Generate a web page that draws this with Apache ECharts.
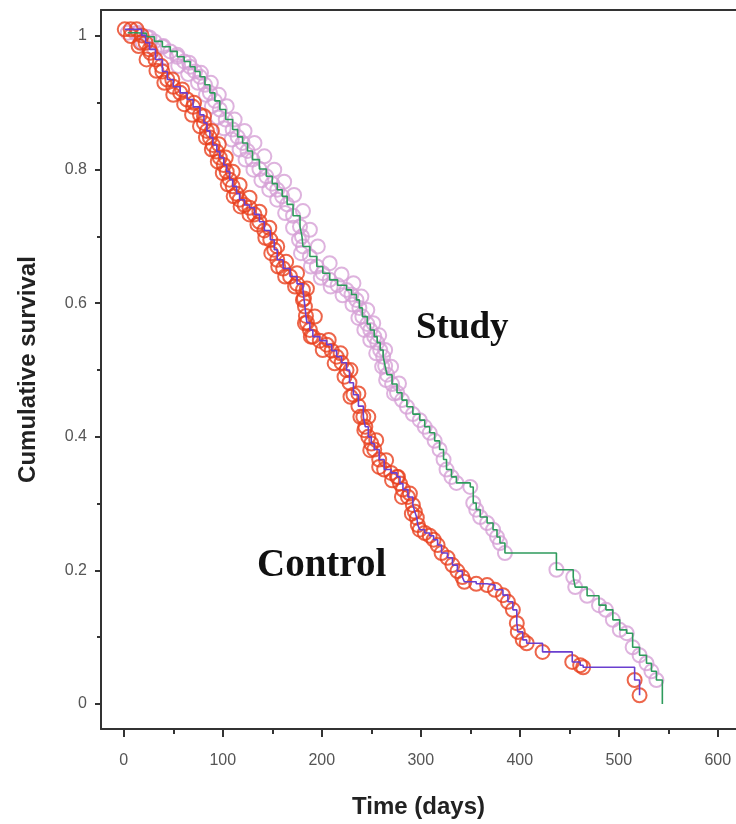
<!DOCTYPE html>
<html lang="en">
<head>
    <meta charset="UTF-8">
    <title>Cumulative survival</title>
    <script src="https://cdn.jsdelivr.net/npm/echarts@6/dist/echarts.min.js"></script>
    <style>
        html, body { margin: 0; padding: 0; background: #fff; }
        #km { width: 736px; height: 824px; }
    </style>
</head>
<body>
    <div id="km"></div>
    <script>
        // ticks
        var xTicks = [0, 100, 200, 300, 400, 500, 600];
        var xMinorTicks = [50, 150, 250, 350, 450, 550];
        var yTicks = [0, 0.2, 0.4, 0.6, 0.8, 1];
        var yMinorTicks = [0.1, 0.3, 0.5, 0.7, 0.9];

        // control group curve (days, survival)
        var controlDays = [1, 7, 13, 18, 22, 26, 32, 39, 44, 50, 57, 64, 70, 77, 81, 84, 87, 90, 94, 97,
            101, 104, 107, 110, 114, 117, 122, 127, 132, 137, 142, 148, 152, 155, 161, 168, 175, 181, 182, 183,
            184, 185, 188, 191, 198, 205, 210, 215, 220, 225, 228, 232, 237, 242, 244, 247, 250, 253, 258, 263,
            270, 276, 279, 282, 287, 292, 294, 296, 297, 299, 304, 309, 313, 317, 321, 327, 332, 337, 342, 344,
            356, 367, 375, 383, 388, 393, 397, 398, 403, 407, 423, 453, 461, 464, 516, 521];
        var controlSurv = [1.01, 1.01, 1.01, 1.001, 0.99, 0.98, 0.965, 0.947, 0.935, 0.924, 0.915, 0.905, 0.894, 0.882, 0.87, 0.858, 0.848, 0.837, 0.827, 0.818,
            0.807, 0.797, 0.785, 0.775, 0.764, 0.755, 0.747, 0.743, 0.733, 0.722, 0.709, 0.695, 0.68, 0.665, 0.652, 0.64, 0.629, 0.62, 0.607, 0.595,
            0.581, 0.571, 0.56, 0.55, 0.544, 0.538, 0.529, 0.52, 0.511, 0.5, 0.481, 0.463, 0.446, 0.43, 0.415, 0.4, 0.39, 0.381, 0.366, 0.351,
            0.346, 0.34, 0.33, 0.321, 0.31, 0.298, 0.288, 0.279, 0.268, 0.261, 0.256, 0.252, 0.246, 0.238, 0.226, 0.219, 0.208, 0.199, 0.19, 0.183,
            0.18, 0.178, 0.171, 0.163, 0.153, 0.141, 0.121, 0.108, 0.096, 0.091, 0.078, 0.063, 0.058, 0.055, 0.036, 0.013];

        // extra control marks on the edges of the dense band
        var controlMarkDays = [7, 17, 27, 38, 49, 59, 71, 81, 89, 96, 103, 110, 117, 127, 137, 147, 155, 164, 175, 185,
            193, 207, 219, 229, 237, 247, 255, 265, 277, 289,
            15, 23, 33, 41, 50, 61, 69, 77, 83, 89, 95, 100, 105, 111, 118, 127, 135, 143, 149, 156,
            163, 173, 181, 183, 189, 201, 213, 223, 229, 239, 243, 249, 258, 271, 281, 291];
        var controlMarkSurv = [1.0, 0.99, 0.975, 0.955, 0.935, 0.92, 0.9, 0.88, 0.858, 0.838, 0.818, 0.797, 0.777, 0.758, 0.737, 0.713, 0.685, 0.662, 0.645, 0.622,
            0.58, 0.545, 0.525, 0.5, 0.465, 0.43, 0.395, 0.365, 0.34, 0.315,
            0.985, 0.965, 0.948, 0.93, 0.912, 0.898, 0.882, 0.865, 0.848, 0.83, 0.812, 0.795, 0.778, 0.76, 0.745, 0.733, 0.718, 0.698, 0.675, 0.655,
            0.64, 0.625, 0.605, 0.57, 0.55, 0.53, 0.51, 0.49, 0.46, 0.43, 0.41, 0.38, 0.355, 0.335, 0.31, 0.285];

        // study group curve (days, survival), last point is the end of the curve
        var studyDays = [4, 12, 23, 31, 39, 47, 54, 61, 67, 72, 77, 82, 87, 92, 97, 103, 110, 115, 120, 125,
            130, 137, 144, 150, 155, 160, 165, 171, 178, 180, 181, 188, 195, 201, 208, 216, 225, 230, 235, 238,
            241, 246, 249, 253, 256, 259, 262, 264, 266, 271, 276, 281, 286, 292, 299, 304, 309, 314, 319, 323,
            326, 331, 336, 350, 353, 356, 360, 367, 373, 377, 380, 385, 437, 454, 456, 468, 480, 487, 494, 501,
            508, 514, 521, 528, 533, 538, 544];
        var studySurv = [1.005, 1.004, 0.999, 0.992, 0.984, 0.977, 0.969, 0.962, 0.954, 0.947, 0.939, 0.927, 0.915, 0.903, 0.89, 0.875, 0.86, 0.849, 0.84, 0.828,
            0.815, 0.801, 0.79, 0.779, 0.77, 0.76, 0.748, 0.731, 0.715, 0.7, 0.685, 0.67, 0.655, 0.645, 0.635, 0.627, 0.62, 0.613, 0.605, 0.593,
            0.58, 0.569, 0.56, 0.55, 0.541, 0.53, 0.52, 0.506, 0.493, 0.479, 0.466, 0.455, 0.445, 0.434, 0.425, 0.415, 0.406, 0.394, 0.381, 0.366,
            0.351, 0.34, 0.331, 0.325, 0.301, 0.291, 0.28, 0.271, 0.261, 0.25, 0.241, 0.226, 0.201, 0.19, 0.175, 0.162, 0.148, 0.141, 0.126, 0.111,
            0.106, 0.085, 0.073, 0.061, 0.049, 0.036, 0.0];

        // extra study marks on the edges of the dense band
        var studyMarkDays = [14, 26, 40, 54, 66, 78, 88, 96, 104, 112, 122, 132, 142, 152, 162, 172, 181, 188, 196, 208,
            220, 232, 240, 246, 252, 258, 264, 270, 278,
            19, 31, 43, 55, 65, 75, 83, 89, 95, 101, 109, 117, 123, 131, 139, 147, 155, 163, 171, 177,
            179, 189, 199, 209, 221, 231, 237, 243, 249, 255, 261, 265, 273];
        var studyMarkSurv = [1.005, 0.998, 0.985, 0.972, 0.96, 0.945, 0.93, 0.912, 0.895, 0.875, 0.858, 0.84, 0.82, 0.8, 0.782, 0.762, 0.738, 0.71, 0.685, 0.66,
            0.643, 0.63, 0.61, 0.59, 0.57, 0.552, 0.53, 0.505, 0.48,
            0.99, 0.98, 0.968, 0.955, 0.943, 0.93, 0.912, 0.895, 0.878, 0.862, 0.845, 0.83, 0.815, 0.8, 0.784, 0.77, 0.755, 0.735, 0.713, 0.695,
            0.675, 0.655, 0.638, 0.625, 0.612, 0.598, 0.578, 0.56, 0.545, 0.525, 0.505, 0.485, 0.465];

        function pairs(xs, ys) {
            return xs.map(function (x, i) { return [x, ys[i]]; });
        }

        var controlData = pairs(controlDays, controlSurv);
        var studyData = pairs(studyDays, studySurv);
        var controlMarks = controlData.concat(pairs(controlMarkDays, controlMarkSurv));
        var studyMarks = studyData.slice(0, -1).concat(pairs(studyMarkDays, studyMarkSurv));

        var chart = echarts.init(document.getElementById('km'), null, { renderer: 'canvas' });

        var X_MIN = -23, X_MAX = 618.4, Y_MIN = -0.0374, Y_MAX = 1.039;
        var tickLabel = { color: '#555', fontSize: 16, fontFamily: 'Liberation Sans, Arial, sans-serif' };
        var axisTitle = { color: '#222', fontSize: 24, fontWeight: 'bold', fontFamily: 'Liberation Sans, Arial, sans-serif' };
        var axisLine = { show: true, onZero: false, lineStyle: { color: '#333', width: 2 } };
        var noLine = { show: false, onZero: false };

        var option = {
            animation: false,
            backgroundColor: '#fff',
            grid: { left: 101, top: 10, right: 0, bottom: 95 },
            xAxis: [{
                type: 'value', min: X_MIN, max: X_MAX,
                name: 'Time (days)', nameLocation: 'middle', nameGap: 66,
                nameTextStyle: axisTitle,
                axisLine: axisLine,
                splitLine: { show: false },
                axisTick: { show: true, length: 8, customValues: xTicks, lineStyle: { color: '#333', width: 2 } },
                axisLabel: Object.assign({ margin: 24, customValues: xTicks }, tickLabel)
            }, {
                // minor ticks
                type: 'value', min: X_MIN, max: X_MAX, position: 'bottom',
                axisLine: noLine,
                splitLine: { show: false },
                axisTick: { show: true, length: 5, customValues: xMinorTicks, lineStyle: { color: '#333', width: 2 } },
                axisLabel: { show: false }
            }, {
                // top frame line
                type: 'value', min: X_MIN, max: X_MAX, position: 'top',
                axisLine: axisLine,
                splitLine: { show: false },
                axisTick: { show: false },
                axisLabel: { show: false }
            }],
            yAxis: [{
                type: 'value', min: Y_MIN, max: Y_MAX,
                name: 'Cumulative survival', nameLocation: 'middle', nameGap: 61,
                nameTextStyle: axisTitle,
                axisLine: axisLine,
                splitLine: { show: false },
                axisTick: { show: true, length: 6, customValues: yTicks, lineStyle: { color: '#333', width: 2 } },
                axisLabel: Object.assign({
                    margin: 14, customValues: yTicks,
                    formatter: function (v) { return String(+v.toFixed(1)); }
                }, tickLabel)
            }, {
                type: 'value', min: Y_MIN, max: Y_MAX, position: 'left',
                axisLine: noLine,
                splitLine: { show: false },
                axisTick: { show: true, length: 4, customValues: yMinorTicks, lineStyle: { color: '#333', width: 2 } },
                axisLabel: { show: false }
            }],
            graphic: [{
                type: 'text', left: 416, top: 310,
                style: { text: 'Study', fill: '#111', font: 'bold 37px "Liberation Serif", "Times New Roman", serif' }
            }, {
                type: 'text', left: 257, top: 546,
                style: { text: 'Control', fill: '#111', font: 'bold 39px "Liberation Serif", "Times New Roman", serif' }
            }],
            series: [{
                name: 'Study marks', type: 'scatter',
                data: studyMarks,
                symbol: 'circle', symbolSize: 14,
                itemStyle: { color: 'rgba(0,0,0,0)', borderColor: '#d6a0d6', borderWidth: 2 },
                z: 2
            }, {
                name: 'Control marks', type: 'scatter',
                data: controlMarks,
                symbol: 'circle', symbolSize: 14,
                itemStyle: { color: 'rgba(0,0,0,0)', borderColor: '#e8401e', borderWidth: 2 },
                z: 3
            }, {
                name: 'Study', type: 'line', step: 'end',
                data: studyData, showSymbol: false,
                lineStyle: { color: '#2e9b5c', width: 1.6 },
                z: 4
            }, {
                name: 'Control', type: 'line', step: 'end',
                data: controlData, showSymbol: false,
                lineStyle: { color: '#6a3fcf', width: 1.6 },
                z: 5
            }]
        };

        chart.setOption(option);
    </script>
</body>
</html>
